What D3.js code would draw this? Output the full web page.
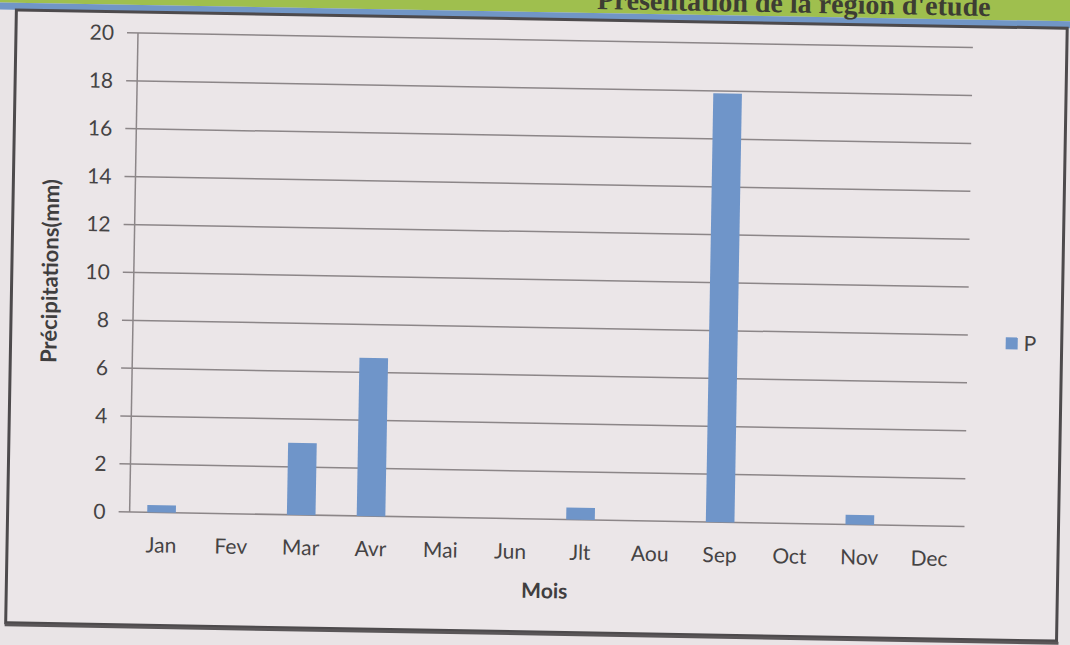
<!DOCTYPE html>
<html>
<head>
<meta charset="utf-8">
<script src="https://cdn.jsdelivr.net/npm/d3@7"></script>
<style>
  body { margin: 0; background: #e9e4e6; }
  svg { display: block; }
</style>
</head>
<body>
<div id="chart"></div>
<script>
// data
var months = ["Jan", "Fev", "Mar", "Avr", "Mai", "Jun", "Jlt", "Aou", "Sep", "Oct", "Nov", "Dec"]
var precip = [0.3, 0, 3.0, 6.6, 0, 0, 0.5, 0, 17.9, 0, 0.4, 0]
var yTicks = [0, 2, 4, 6, 8, 10, 12, 14, 16, 18, 20]
var seriesName = "P"

var W = 1070, H = 645
// (window.top is read-only, so no plain "top" here)
var plot = { left: 130, right: 968, top: 40, bottom: 519 }

var svg = d3.select("#chart")
  .append("svg")
  .attr("width", W)
  .attr("height", H)

// photo is slightly tilted, rotate the whole page a little
var page = svg.append("g")
  .attr("transform", "rotate(1.0," + W / 2 + "," + H / 2 + ")")

// page background + header bands
page.append("rect")
  .attr("x", -60).attr("y", -60)
  .attr("width", W + 120).attr("height", H + 120)
  .attr("fill", "#e9e4e6")
page.append("rect")
  .attr("x", -60).attr("y", -60)
  .attr("width", W + 120).attr("height", 72)
  .attr("fill", "#9fbf4e")
page.append("rect")
  .attr("x", -60).attr("y", 12)
  .attr("width", W + 120).attr("height", 7)
  .attr("fill", "#7196c6")
page.append("text")
  .attr("x", 985)
  .attr("y", 8)
  .attr("text-anchor", "end")
  .style("font-family", "Liberation Serif, serif")
  .style("font-weight", "bold")
  .style("font-size", "28px")
  .style("fill", "#3d3d33")
  .text("Présentation de la région d'étude")

// chart frame
page.append("rect")
  .attr("x", 11).attr("y", 19)
  .attr("width", 1051).attr("height", 613)
  .attr("fill", "#ebe6e8")
  .attr("stroke", "#4d4a4c")
  .attr("stroke-width", 3)
page.append("line")
  .attr("x1", 10).attr("x2", 1064)
  .attr("y1", 634).attr("y2", 634)
  .attr("stroke", "#5a5658")
  .attr("stroke-width", 3)

var x = d3.scaleBand()
  .domain(months)
  .range([plot.left, plot.right])
  .padding(0)

var y = d3.scaleLinear()
  .domain([0, 20])
  .range([plot.bottom, plot.top])

// gridlines
page.selectAll(".grid")
  .data(yTicks)
  .enter()
  .append("line")
  .attr("class", "grid")
  .attr("x1", plot.left - 8)
  .attr("x2", plot.right)
  .attr("y1", function (d) { return y(d) })
  .attr("y2", function (d) { return y(d) })
  .attr("stroke", "#8c8688")
  .attr("stroke-width", 1.5)

// left axis line
page.append("line")
  .attr("x1", plot.left + 3).attr("x2", plot.left + 3)
  .attr("y1", y(20)).attr("y2", y(0))
  .attr("stroke", "#8c8688")
  .attr("stroke-width", 1.5)

// y tick labels
page.selectAll(".ylab")
  .data(yTicks)
  .enter()
  .append("text")
  .attr("class", "ylab")
  .attr("x", plot.left - 21)
  .attr("y", function (d) { return y(d) })
  .attr("dy", "0.35em")
  .attr("text-anchor", "end")
  .style("font-family", "Lato, sans-serif")
  .style("font-size", "21px")
  .style("fill", "#454344")
  .text(function (d) { return d })

// x tick labels
page.selectAll(".xlab")
  .data(months)
  .enter()
  .append("text")
  .attr("class", "xlab")
  .attr("x", function (d) { return x(d) + x.bandwidth() / 2 })
  .attr("y", plot.bottom + 40)
  .attr("text-anchor", "middle")
  .style("font-family", "Lato, sans-serif")
  .style("font-size", "21px")
  .style("fill", "#454344")
  .text(function (d) { return d })

// bars
var bw = x.bandwidth() * 0.41
page.selectAll(".bar")
  .data(precip)
  .enter()
  .append("rect")
  .attr("class", "bar")
  .attr("x", function (d, i) { return x(months[i]) + (x.bandwidth() - bw) / 2 })
  .attr("y", function (d) { return y(d) })
  .attr("width", bw)
  .attr("height", function (d) { return y(0) - y(d) })
  .attr("fill", "#6f95c9")

// axis titles
page.append("text")
  .attr("transform", "translate(57," + (plot.top + plot.bottom) / 2 + ") rotate(-90)")
  .attr("text-anchor", "middle")
  .style("font-family", "Lato, sans-serif")
  .style("font-weight", "bold")
  .style("font-size", "22px")
  .style("fill", "#403e3f")
  .text("Précipitations(mm)")

page.append("text")
  .attr("x", (plot.left + plot.right) / 2)
  .attr("y", plot.bottom + 79)
  .attr("text-anchor", "middle")
  .style("font-family", "Lato, sans-serif")
  .style("font-weight", "bold")
  .style("font-size", "21px")
  .style("fill", "#403e3f")
  .text("Mois")

// legend
var legend = page.append("g")
  .attr("transform", "translate(1006,335)")
legend.append("rect")
  .attr("x", 0).attr("y", -6)
  .attr("width", 12).attr("height", 12)
  .attr("fill", "#6f95c9")
legend.append("text")
  .attr("x", 18)
  .attr("y", 0)
  .attr("dy", "0.35em")
  .style("font-family", "Lato, sans-serif")
  .style("font-size", "21px")
  .style("fill", "#454344")
  .text(seriesName)
</script>
</body>
</html>
